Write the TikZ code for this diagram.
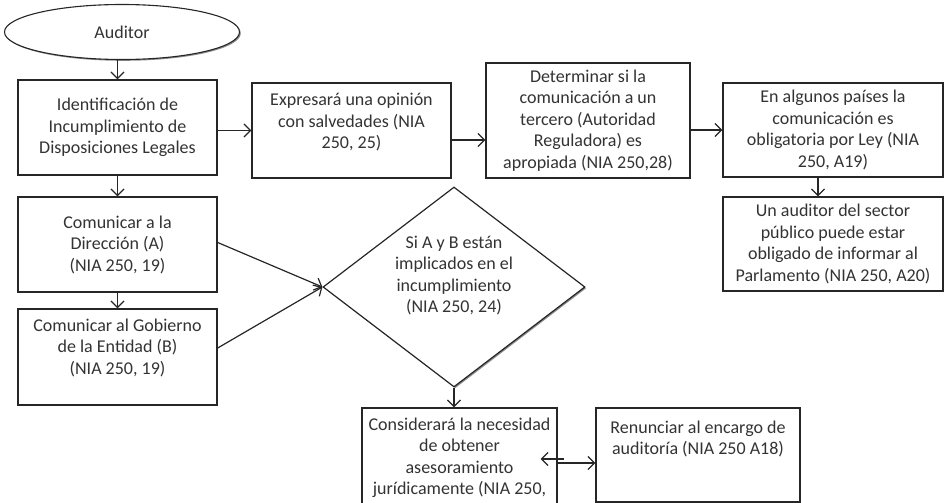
\documentclass[tikz,border=0pt]{standalone}
\usepackage{fontspec}
\setmainfont{Carlito}
\usetikzlibrary{shapes.geometric,arrows.meta,shadows,positioning}

\begin{document}
\begin{tikzpicture}[x=1pt,y=-1pt,
    font=\fontsize{18}{21.5}\selectfont,
    box/.style={draw=black!85, line width=1.4pt, fill=white, align=center,
        inner sep=0pt, text=black!80,
        drop shadow={shadow xshift=1.3pt, shadow yshift=-1.3pt, fill=black!45, opacity=1}},
    boxtext/.style={align=center, inner sep=0pt, text=black!80},
    arr/.style={line width=1.2pt, draw=black!85, -{Straight Barb[length=6.5pt,width=13pt]}}]
            \useasboundingbox (0,0) rectangle (945,503);
            \clip (0,0) rectangle (945,503);

            % Drawing the ellipse Auditor
            \node[box, ellipse, line width=1.1pt, minimum width=235pt, minimum height=55pt] (auditor) at (122.000000,32.000000) {Auditor};%

            % Drawing box ident
            \node[box, minimum width=199pt, minimum height=95pt] (ident) at (117.500000,127.500000) {Identificación de\\Incumplimiento de\\Disposiciones Legales};%

            % Drawing box opinion
            \node[box, minimum width=199pt, minimum height=95pt] (opinion) at (351.500000,130.500000) {};%
            \node[boxtext, below=11pt of opinion.north] (opiniontext) {Expresará una opinión\\con salvedades (NIA\\250, 25)};%

            % Drawing box tercero
            \node[box, minimum width=204pt, minimum height=115pt] (tercero) at (588.000000,120.500000) {Determinar si la\\comunicación a un\\tercero (Autoridad\\Reguladora) es\\apropiada (NIA 250,28)};%

            % Drawing box paises
            \node[box, minimum width=220pt, minimum height=94pt] (paises) at (833.000000,130.000000) {En algunos países la\\comunicación es\\obligatoria por Ley (NIA\\250, A19)};%

            % Drawing box publico
            \node[box, minimum width=220pt, minimum height=94pt] (publico) at (833.000000,244.000000) {Un auditor del sector\\público puede estar\\obligado de informar al\\Parlamento (NIA 250, A20)};%

            % Drawing box direccion
            \node[box, minimum width=199pt, minimum height=95pt] (direccion) at (117.500000,244.500000) {Comunicar a la\\Dirección (A)\\(NIA 250, 19)};%

            % Drawing box gobierno
            \node[box, minimum width=199pt, minimum height=96pt] (gobierno) at (117.500000,357.000000) {};%
            \node[boxtext, below=10pt of gobierno.north] (gobiernotext) {Comunicar al Gobierno\\de la Entidad (B)\\(NIA 250, 19)};%

            % Drawing diamond decision
            \node[box, diamond, aspect=1.31, line width=1.2pt, minimum width=262pt, minimum height=200pt] (decision) at (454.000000,287.000000) {Si A y B están\\implicados en el\\incumplimiento\\(NIA 250, 24)\\[4pt]};%

            % Drawing box asesor
            \node[box, minimum width=195pt, minimum height=112pt] (asesor) at (459.500000,464.000000) {};%
            \node[boxtext, below=10pt of asesor.north] (asesortext) {Considerará la necesidad\\de obtener\\asesoramiento\\jurídicamente (NIA 250,};%

            % Drawing box renuncia
            \node[box, minimum width=204pt, minimum height=94pt] (renuncia) at (698.000000,455.000000) {};%
            \node[boxtext, below=13pt of renuncia.north] (renunciatext) {Renunciar al encargo de\\auditoría (NIA 250 A18)};%

            % Drawing arrows of the left column
            \draw[arr] (ident.north |- auditor.south) -- (ident.north);%
            \draw[arr] (ident.south) -- (direccion.north);%
            \draw[arr] (direccion.south) -- (gobierno.north);%

            % Drawing arrows of the top row
            \coordinate (ident east) at ([yshift=-3pt]ident.east);%
            \draw[arr] (ident east) -- (ident east -| opinion.west);%
            \coordinate (opinion east) at ([yshift=-9.5pt]opinion.east);%
            \draw[arr] (opinion east) -- (opinion east -| tercero.west);%
            \draw[arr] (paises.west -| tercero.east) -- (paises.west);%
            \coordinate (paises south) at ([xshift=-15pt]paises.south);%
            \draw[arr] (paises south) -- (paises south |- publico.north);%

            % Drawing arrows into the diamond
            \draw[arr] ([yshift=2pt]direccion.east) -- (decision.west);%
            \draw[arr] ([yshift=9pt]gobierno.east) -- (decision.west);%
            \draw[arr] (decision.south) -- (decision.south |- asesor.north);%

            % Drawing arrows between asesor and renuncia
            \coordinate (asesor east) at ([yshift=1pt]asesor.east);%
            \draw[arr] (asesor east) -- (asesor east -| renuncia.west);%
            \coordinate (asesor back) at ([xshift=6pt,yshift=5pt]asesor.east);%
            \draw[arr] (asesor back) -- ++(-23,0);%
\end{tikzpicture}
\end{document}
